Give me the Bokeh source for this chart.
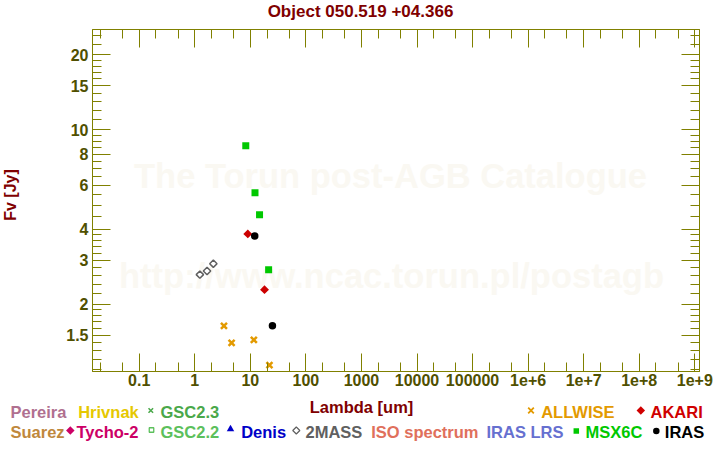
import numpy as np
from bokeh.plotting import figure
from bokeh.layouts import column, row
from bokeh.models import Range1d, LogAxis, FixedTicker, Label, ColumnDataSource
from bokeh.core.properties import value
from bokeh.embed import file_html
from bokeh.resources import INLINE

# ---------------- data ----------------
title_text = "Object 050.519 +04.366"
x_title = "Lambda [um]"
y_title = "Fv [Jy]"

twomass_wl = [1.235, 1.662, 2.159]
twomass_flux = [2.63, 2.72, 2.91]
allwise_wl = [3.35, 4.6, 11.56, 22.08]
allwise_flux = [1.64, 1.40, 1.44, 1.14]
akari_wl = [9.0, 18.0]
akari_flux = [3.83, 2.29]
msx_wl = [8.28, 12.13, 14.65, 21.34]
msx_flux = [8.64, 5.60, 4.57, 2.75]
iras_wl = [12.0, 25.0]
iras_flux = [3.76, 1.64]

x_ticks = [0.1, 1, 10, 100, 1e3, 1e4, 1e5, 1e6, 1e7, 1e8, 1e9]
x_tick_labels = ["0.1", "1", "10", "100", "1000", "10000", "100000",
                 "1e+6", "1e+7", "1e+8", "1e+9"]
x_minor = [m * 10.0 ** e for e in range(-2, 9) for m in (2, 5)]
y_ticks = [1.5, 2, 3, 4, 6, 8, 10, 15, 20]
y_tick_labels = ["1.5", "2", "3", "4", "6", "8", "10", "15", "20"]
y_minor = [1.1, 1.2, 1.3, 1.4, 1.6, 1.7, 1.8, 1.9, 2.2, 2.4, 2.6, 2.8,
           3.2, 3.4, 3.6, 3.8, 4.5, 5, 5.5, 6.5, 7, 7.5, 8.5, 9, 9.5,
           11, 12, 13, 14, 16, 17, 18, 19, 22, 24]

legend_names = ["Pereira", "Hrivnak", "GSC2.3", "ALLWISE", "AKARI",
                "Suarez", "Tycho-2", "GSC2.2", "Denis", "2MASS", "ISO spectrum",
                "IRAS LRS", "MSX6C", "IRAS"]
legend_colors = ["#b07090", "#e6c800", "#4aa84a", "#e39a00", "#d00000",
                 "#c0883c", "#cc0066", "#5cc05c", "#0000c8", "#606060", "#e0705c",
                 "#6670d0", "#00c800", "#000000"]

# ---------------- layout constants ----------------
W, H = 720, 450
TITLE_H = 24
BOTTOM_H = 54
YLAB_W = 20
MID_H = H - TITLE_H - BOTTOM_H
FL, FT, FR, FB = 92, 29, 699, 371          # frame edges in page pixels
OLIVE = "#808000"
TICKC = "#505000"
DARKRED = "#800000"
FONT = "Liberation Sans"
TXT_SHIFT = 5                              # baseline correction for text glyphs

p = figure(width=W - YLAB_W, height=MID_H, x_axis_type="log", y_axis_type="log",
           output_backend="svg", toolbar_location=None,
           x_range=Range1d(10 ** -1.841, 10 ** 9.085),
           y_range=Range1d(1.0758, 25.26),
           min_border_left=FL - YLAB_W, min_border_top=FT - TITLE_H,
           min_border_right=W - FR, min_border_bottom=TITLE_H + MID_H - FB)
p.background_fill_color = "white"
p.border_fill_color = "white"
p.outline_line_color = OLIVE
p.xgrid.visible = False
p.ygrid.visible = False


def style_axis(ax, ticks, minor, labels, standoff, show_labels=True):
    ax.ticker = FixedTicker(ticks=ticks, minor_ticks=minor)
    ax.axis_line_color = OLIVE
    ax.major_tick_line_color = OLIVE
    ax.minor_tick_line_color = OLIVE
    ax.major_tick_in = 18
    ax.major_tick_out = 0
    ax.minor_tick_in = 9
    ax.minor_tick_out = 0
    ax.major_label_standoff = standoff
    if show_labels:
        ax.major_label_overrides = {t: s for t, s in zip(ticks, labels)}
        ax.major_label_text_font = FONT
        ax.major_label_text_font_style = "bold"
        ax.major_label_text_font_size = "16px"
        ax.major_label_text_color = TICKC
    else:
        ax.major_label_text_font_size = "2px"
        ax.major_label_text_alpha = 0
        ax.major_label_standoff = 0


style_axis(p.xaxis[0], x_ticks, x_minor, x_tick_labels, 2)
style_axis(p.yaxis[0], y_ticks, y_minor, y_tick_labels, 4)
top_ax = LogAxis()
right_ax = LogAxis()
style_axis(top_ax, x_ticks, x_minor, x_tick_labels, 0, show_labels=False)
style_axis(right_ax, y_ticks, y_minor, y_tick_labels, 0, show_labels=False)
p.add_layout(top_ax, "above")
p.add_layout(right_ax, "right")

# watermark (inside the frame)
for txt, cx, cy in [("The Torun post-AGB Catalogue", 390, 175),
                    ("http://www.ncac.torun.pl/postagb", 391, 275)]:
    p.add_layout(Label(x=cx - FL, y=FB - cy, x_units="screen", y_units="screen",
                       text=txt, text_color="#faf8f2", text_font_size="34.5px",
                       text_font=FONT, text_font_style="bold", text_align="center",
                       text_baseline="alphabetic", level="underlay"))

# data
p.scatter(twomass_wl, twomass_flux, marker="square", angle=np.pi / 4, size=5.2,
          fill_color="white", line_color="#606060", line_width=1.5)
p.scatter(msx_wl, msx_flux, marker="square", size=7, fill_color="#00c800",
          line_color=None)
p.scatter(allwise_wl, allwise_flux, marker="x", size=8.5, line_color="#e39a00",
          line_width=2.5)
p.scatter(akari_wl, akari_flux, marker="square", angle=np.pi / 4, size=6.3,
          fill_color="#cc0000", line_color=None)
p.scatter(iras_wl, iras_flux, marker="circle", size=7.5, fill_color="black",
          line_color=None)


def helper(width, height, x0, y0):
    """A blank figure whose data coordinates are page pixels (y negated)."""
    f = figure(width=width, height=height, output_backend="svg",
               toolbar_location=None, min_border=0,
               x_range=Range1d(x0, x0 + width),
               y_range=Range1d(-(y0 + height), -y0),
               x_axis_location=None, y_axis_location=None)
    f.xgrid.visible = False
    f.ygrid.visible = False
    f.outline_line_color = None
    f.background_fill_color = "white"
    f.border_fill_color = "white"
    return f


def put_text(f, x, y, txt, color, size="16px", align="left", angle=0.0):
    f.text(x=[x], y=[-y], text=[txt], text_color=color, text_font=value(FONT),
           text_font_size=value(size), text_font_style="bold", text_align=align,
           text_baseline="alphabetic", angle=angle)


# title
pt = helper(W, TITLE_H, 0, 0)
put_text(pt, 360, 16 - TXT_SHIFT, title_text, DARKRED, size="17px", align="center")

# y label
py = helper(YLAB_W, MID_H, 0, TITLE_H)
put_text(py, 15 - TXT_SHIFT, 204, y_title, DARKRED, align="center", angle=np.pi / 2)

# x label and legend
pb = helper(W, BOTTOM_H, 0, H - BOTTOM_H)
put_text(pb, 361, 411.5 - TXT_SHIFT, x_title, DARKRED, size="16.5px", align="center")
leg_x = [10, 77.7, 160, 540.7, 650, 10, 76, 160, 240.7, 305, 370.7, 486, 585, 664.3]
leg_y = [416] * 5 + [436.5] * 9
src = ColumnDataSource(dict(x=leg_x, y=[-(v - TXT_SHIFT) for v in leg_y],
                            t=legend_names, c=legend_colors))
pb.text(x="x", y="y", text="t", text_color="c", source=src, text_font=value(FONT),
        text_font_size=value("16.5px"), text_font_style="bold",
        text_align="left", text_baseline="alphabetic")

# legend symbols
pb.scatter([150.3], [-410], marker="x", size=6.5, line_color="#4aa84a", line_width=1.5)
pb.scatter([530.5], [-410], marker="x", size=8, line_color="#e39a00", line_width=1.8)
pb.scatter([640.3, 69.8], [-410, -430], marker="square", angle=np.pi / 4, size=6,
           fill_color=["#d00000", "#cc0066"], line_color=None)
pb.scatter([151], [-429.5], marker="square", size=4.5, fill_color=None,
           line_color="#5cc05c", line_width=1.3)
pb.scatter([230], [-428.5], marker="triangle", size=7.5, fill_color="#0000c8",
           line_color=None)
pb.scatter([295.8], [-430], marker="square", angle=np.pi / 4, size=5, fill_color=None,
           line_color="#606060", line_width=1.2)
pb.scatter([575.8], [-430.5], marker="square", size=5.5, fill_color="#00c800",
           line_color=None)
pb.scatter([655.8], [-430.5], marker="circle", size=6.5, fill_color="black",
           line_color=None)

layout = column(pt, row(py, p), pb)
open("out.html", "w").write(file_html(layout, INLINE))
